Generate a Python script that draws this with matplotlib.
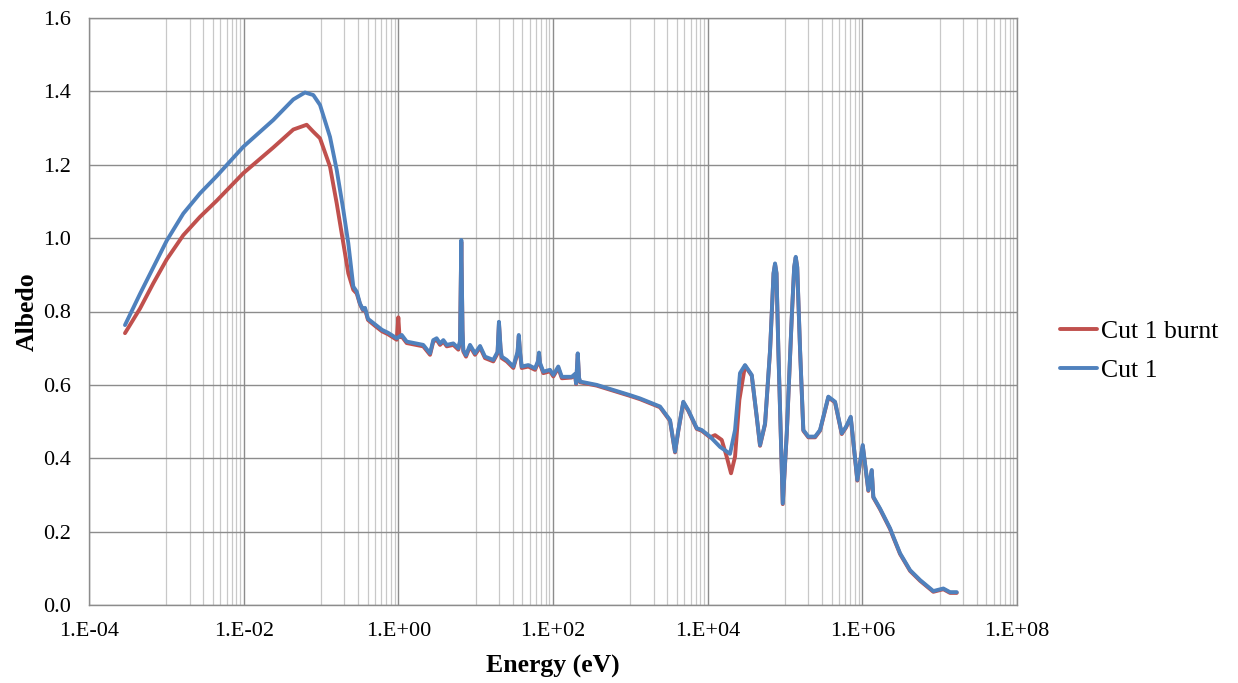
import matplotlib
matplotlib.use("Agg")
import matplotlib.pyplot as plt
from matplotlib.ticker import FixedLocator, FuncFormatter, NullFormatter
import numpy as np

# ---- data (energy in eV, albedo) ----
energy_cut1 = [2.92e-4, 4.565e-4, 6.785e-4, 1.011e-3, 1.657e-3, 2.725e-3, 4.48e-3, 9.89e-3, 2.416e-2,
               4.384e-2, 6.21e-2, 7.955e-2, 9.71e-2, 0.1307, 0.1596, 0.1943, 0.2255, 0.2617, 0.290,
               0.319, 0.349, 0.371, 0.405,
               0.499, 0.615, 0.736, 0.953, 1.106, 1.283, 2.10, 2.57, 2.83, 3.13, 3.46, 3.82,
               4.23, 5.14, 5.97, 6.28, 6.52, 6.76, 6.92, 7.50, 8.45, 9.81, 11.4, 13.2, 16.9,
               19.2, 20.0, 21.0, 21.7, 25.2, 30.7, 34.8, 36.1, 37.5, 39.4, 48.0, 58.6, 64.0,
               65.9, 67.9, 75.0, 91.5, 101, 117, 130, 175, 193, 199, 209, 217, 224, 367, 990,
               1334, 2421, 3260, 3785, 4178, 4842, 5623, 7227, 8375, 10740, 14450, 19450,
               22590, 26180, 30410, 37150, 43130, 47530, 55230, 64100, 71120, 74340, 77660, 82070,
               93540, 105400, 122300, 131500, 137700, 143900, 156700, 172600, 200400, 244800, 283800,
               363400, 443800,
               541800, 615600, 707900, 861700, 1.012e6, 1.196e6, 1.323e6, 1.387e6, 1.694e6,
               2.284e6, 2.519e6, 3.075e6, 4.140e6, 5.58e6, 8.28e6, 1.115e7, 1.361e7, 1.663e7]
albedo_cut1 = [0.763, 0.848, 0.920, 0.993, 1.067, 1.122, 1.169, 1.249, 1.322,
               1.378, 1.397, 1.390, 1.363, 1.276, 1.186, 1.077, 0.986, 0.868, 0.854,
               0.822, 0.805, 0.810, 0.780,
               0.765, 0.750, 0.742, 0.727, 0.736, 0.718, 0.709, 0.686, 0.722, 0.727, 0.713, 0.722,
               0.709, 0.713, 0.700, 0.720, 0.995, 0.750, 0.695, 0.681, 0.709, 0.686, 0.706, 0.677, 0.668,
               0.690, 0.772, 0.700, 0.677, 0.668, 0.650, 0.690, 0.736, 0.690, 0.650, 0.654, 0.645, 0.665,
               0.688, 0.660, 0.636, 0.641, 0.627, 0.650, 0.622, 0.622, 0.630, 0.604, 0.686, 0.620, 0.609, 0.600, 0.572,
               0.563, 0.541, 0.504, 0.418, 0.477, 0.554, 0.531, 0.482, 0.477, 0.459, 0.431, 0.412,
               0.477, 0.632, 0.654, 0.627, 0.513, 0.436, 0.495, 0.695, 0.905, 0.931, 0.905, 0.695,
               0.277, 0.468, 0.786, 0.922, 0.949, 0.922, 0.695, 0.477, 0.459, 0.459, 0.477,
               0.568, 0.554,
               0.468, 0.486, 0.513, 0.341, 0.436, 0.313, 0.368, 0.295, 0.263,
               0.209, 0.186, 0.141, 0.095, 0.068, 0.038, 0.045, 0.035, 0.035]

energy_burnt = [2.92e-4, 4.565e-4, 6.785e-4, 1.011e-3, 1.657e-3, 2.725e-3, 4.48e-3, 9.89e-3, 2.416e-2,
                4.384e-2, 6.53e-2, 7.955e-2, 9.71e-2, 0.1307, 0.1596, 0.1943, 0.2255, 0.2617, 0.290,
                0.319, 0.349, 0.371, 0.405,
                0.499, 0.615, 0.736, 0.953, 1.00, 1.03, 1.06, 1.106, 1.283, 2.10, 2.57, 2.83, 3.13, 3.46, 3.82,
                4.23, 5.14, 5.97, 6.28, 6.52, 6.76, 6.92, 7.50, 8.45, 9.81, 11.4, 13.2, 16.9,
                19.2, 20.0, 21.0, 21.7, 25.2, 30.7, 34.8, 36.1, 37.5, 39.4, 48.0, 58.6, 64.0,
                65.9, 67.9, 75.0, 91.5, 101, 117, 130, 175, 193, 199, 209, 217, 224, 367, 990,
                1334, 2421, 3260, 3785, 4178, 4842, 5623, 7227, 8375, 10740, 12450, 15200, 17630,
                20050, 22590, 25690, 30410, 37150, 43130, 47530, 55230, 64100, 71120, 74340, 77660, 82070,
                93540, 105400, 122300, 131500, 137700, 143900, 156700, 172600, 200400, 244800, 283800,
                363400, 443800,
                541800, 615600, 707900, 861700, 1.012e6, 1.196e6, 1.323e6, 1.387e6, 1.694e6,
                2.284e6, 2.519e6, 3.075e6, 4.140e6, 5.58e6, 8.28e6, 1.115e7, 1.361e7, 1.663e7]
albedo_burnt = [0.741, 0.808, 0.877, 0.942, 1.008, 1.058, 1.102, 1.177, 1.247,
                1.296, 1.309, 1.290, 1.272, 1.195, 1.095, 0.986, 0.904, 0.859, 0.849,
                0.820, 0.803, 0.806, 0.777,
                0.761, 0.746, 0.738, 0.723, 0.784, 0.740, 0.730, 0.732, 0.714, 0.705, 0.682, 0.718, 0.723, 0.709, 0.718,
                0.705, 0.709, 0.696, 0.716, 0.990, 0.746, 0.691, 0.677, 0.705, 0.682, 0.702, 0.673, 0.664,
                0.686, 0.768, 0.696, 0.673, 0.664, 0.646, 0.686, 0.732, 0.686, 0.646, 0.650, 0.641, 0.661,
                0.684, 0.656, 0.632, 0.637, 0.623, 0.646, 0.618, 0.620, 0.628, 0.602, 0.684, 0.618, 0.607, 0.598, 0.570,
                0.561, 0.539, 0.502, 0.416, 0.475, 0.552, 0.529, 0.480, 0.475, 0.457, 0.463, 0.450, 0.404,
                0.359, 0.404, 0.559, 0.652, 0.625, 0.511, 0.434, 0.493, 0.693, 0.903, 0.929, 0.903, 0.693,
                0.275, 0.466, 0.784, 0.920, 0.947, 0.920, 0.693, 0.475, 0.457, 0.457, 0.475,
                0.566, 0.552,
                0.466, 0.484, 0.511, 0.339, 0.434, 0.311, 0.366, 0.293, 0.261,
                0.207, 0.184, 0.139, 0.093, 0.066, 0.036, 0.043, 0.033, 0.033]

series_names = ["Cut 1 burnt", "Cut 1"]
x_tick_exponents = [-4, -2, 0, 2, 4, 6, 8]
y_ticks = [0.0, 0.2, 0.4, 0.6, 0.8, 1.0, 1.2, 1.4, 1.6]

# ---- style ----
plt.rcParams['font.family'] = ['Liberation Serif', 'DejaVu Serif']
RED = '#C0504D'
BLUE = '#4F81BD'
MAJOR = '#8C8C8C'
MINOR = '#C8C8C8'

fig = plt.figure(figsize=(12.38, 6.83), dpi=100)
ax = fig.add_axes([89/1238, 78/683, (1017-89)/1238, (605-18)/683])

ax.plot(energy_burnt, albedo_burnt, color=RED, lw=2.8, label=series_names[0],
        solid_joinstyle='round', solid_capstyle='round', zorder=3)
ax.plot(energy_cut1, albedo_cut1, color=BLUE, lw=2.8, label=series_names[1],
        solid_joinstyle='round', solid_capstyle='round', zorder=4)

ax.set_xscale('log')
ax.set_xlim(10.0**x_tick_exponents[0], 10.0**x_tick_exponents[-1])
ax.set_ylim(y_ticks[0], y_ticks[-1])

major = [10.0**e for e in x_tick_exponents]
minor = [k * 10.0**(e + 1) for e in x_tick_exponents[:-1] for k in range(1, 10)]
ax.xaxis.set_major_locator(FixedLocator(major))
ax.xaxis.set_minor_locator(FixedLocator(minor))
ax.xaxis.set_minor_formatter(NullFormatter())

def fmt_x(v, pos):
    e = int(round(np.log10(v)))
    sign = '+' if e >= 0 else '-'
    return f"1.E{sign}{abs(e):02d}"

ax.xaxis.set_major_formatter(FuncFormatter(fmt_x))
ax.set_yticks(y_ticks)
ax.yaxis.set_major_formatter(FuncFormatter(lambda v, p: f"{v:.1f}"))

ax.grid(True, which='minor', axis='x', color=MINOR, lw=0.9, zorder=0)
ax.grid(True, which='major', axis='both', color=MAJOR, lw=1.0, zorder=1)
ax.set_axisbelow(True)
for s in ax.spines.values():
    s.set_color(MAJOR)
    s.set_linewidth(1.0)
ax.tick_params(axis='both', which='both', length=0, labelsize=16)
ax.tick_params(axis='x', pad=12)
ax.tick_params(axis='y', pad=13)

ax.set_xlabel("Energy (eV)", fontsize=18.5, fontweight='bold', labelpad=10)
ax.set_ylabel("Albedo", fontsize=18.5, fontweight='bold', labelpad=3)

fig.legend(loc='center left', bbox_to_anchor=(1060/1238, 1 - 351/683), frameon=False,
           borderpad=0, borderaxespad=0,
           fontsize=18.5, handlelength=1.45, handletextpad=0.15, labelspacing=0.6)

fig.savefig("out.png", dpi=100)
